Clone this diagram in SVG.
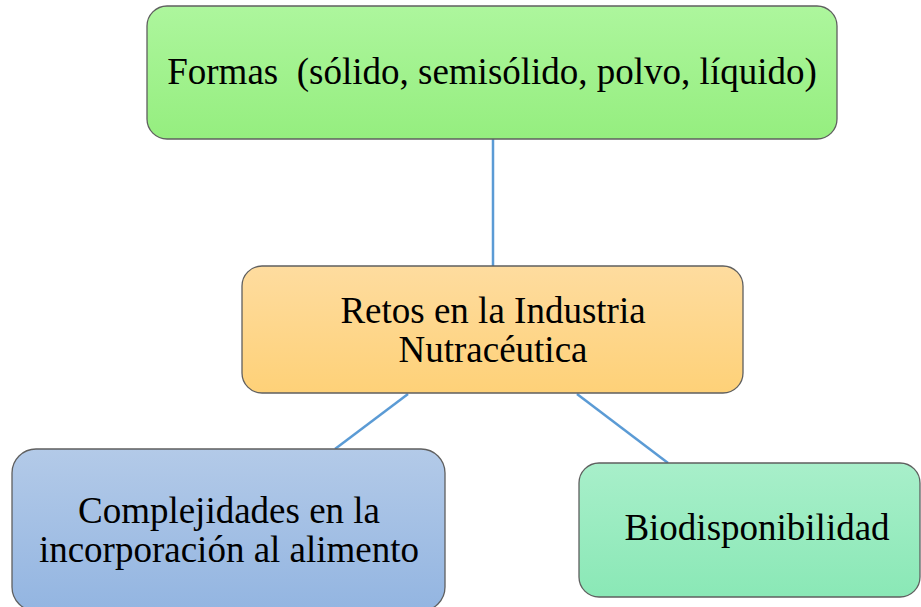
<svg xmlns="http://www.w3.org/2000/svg" width="921" height="607" viewBox="0 0 921 607">
<style>
.box{stroke:#5f5f5f;stroke-width:1.3}
.t{font-family:"Liberation Serif","Times New Roman",serif;font-size:37px;fill:#000;text-anchor:middle;white-space:pre}
.c{stroke:#5b9bd5;stroke-width:2.5;fill:none}
</style>
<defs>
<linearGradient id="gGreen" x1="0" y1="0" x2="0" y2="1"><stop offset="0" stop-color="#adf69d"/><stop offset="1" stop-color="#95ee7f"/></linearGradient>
<linearGradient id="gOrange" x1="0" y1="0" x2="0" y2="1"><stop offset="0" stop-color="#fedc9f"/><stop offset="1" stop-color="#fed178"/></linearGradient>
<linearGradient id="gBlue" x1="0" y1="0" x2="0" y2="1"><stop offset="0" stop-color="#b3cae8"/><stop offset="1" stop-color="#93b5e1"/></linearGradient>
<linearGradient id="gTeal" x1="0" y1="0" x2="0" y2="1"><stop offset="0" stop-color="#a8efca"/><stop offset="1" stop-color="#8ae8b6"/></linearGradient>
</defs>
<rect width="921" height="607" fill="#fff"/>
<g id="connectors">
<line class="c" x1="493" y1="139" x2="493" y2="266"/>
<line class="c" x1="408" y1="394" x2="335" y2="449"/>
<line class="c" x1="577" y1="394" x2="668" y2="463"/>
</g>
<g id="formas">
<rect class="box" x="147" y="6" width="690" height="133" rx="20" fill="url(#gGreen)"/>
<text class="t" x="492" y="84" xml:space="preserve">Formas  (sólido, semisólido, polvo, líquido)</text>
</g>
<g id="retos">
<rect class="box" x="242" y="266" width="501" height="127" rx="20" fill="url(#gOrange)"/>
<text class="t" x="493" y="323">Retos en la Industria</text>
<text class="t" x="493" y="362">Nutracéutica</text>
</g>
<g id="complejidades">
<rect class="box" x="12" y="449" width="433" height="162" rx="24" fill="url(#gBlue)"/>
<text class="t" x="229" y="523">Complejidades en la</text>
<text class="t" x="229" y="562">incorporación al alimento</text>
</g>
<g id="biodisponibilidad">
<rect class="box" x="579" y="463" width="341" height="134" rx="20" fill="url(#gTeal)"/>
<text class="t" x="757" y="540">Biodisponibilidad</text>
</g>
</svg>
